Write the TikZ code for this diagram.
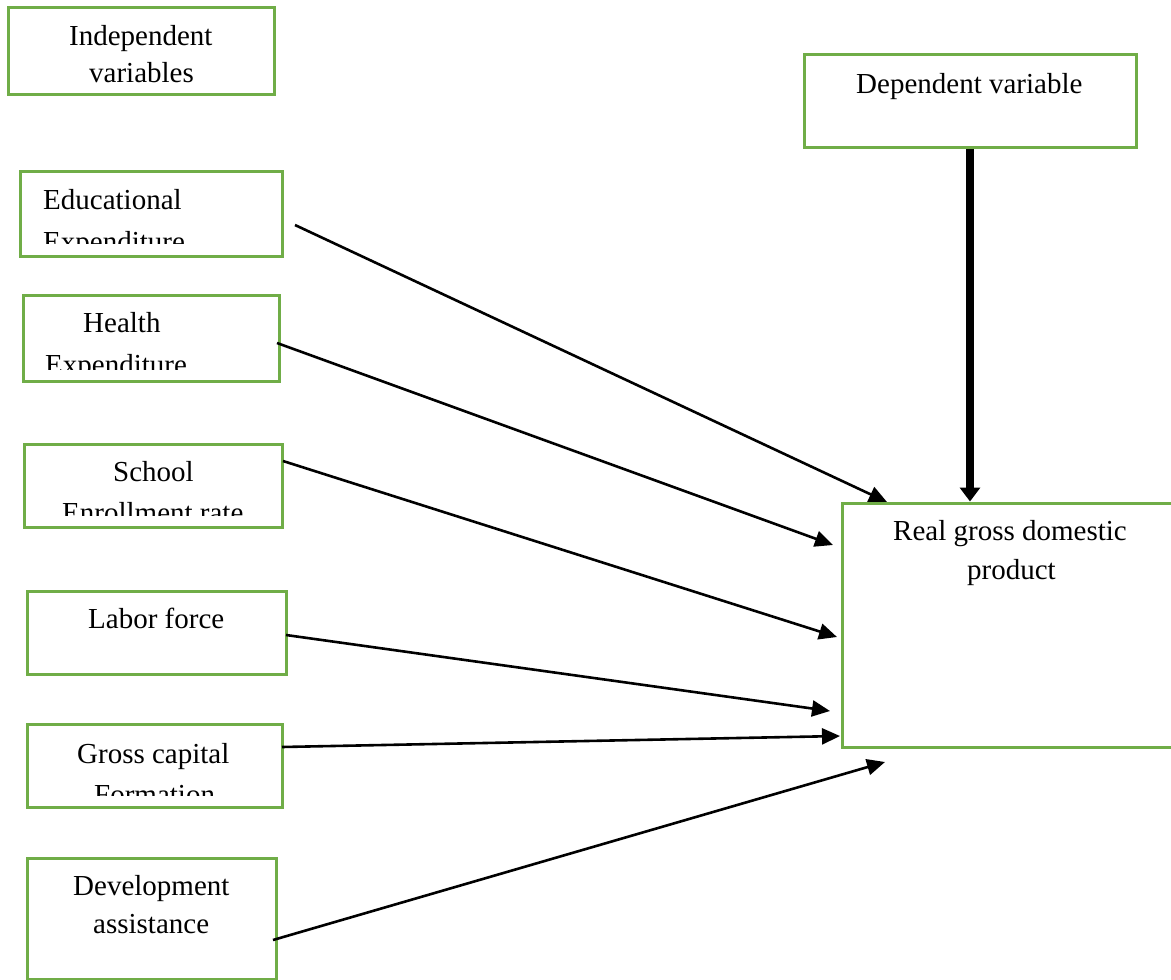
\documentclass[tikz,border=0pt]{standalone}
\usepackage{fontspec}
\setmainfont{Liberation Serif}
\usetikzlibrary{arrows.meta}
\definecolor{boxgreen}{RGB}{112,173,71}
\begin{document}
\begin{tikzpicture}[x=1pt,y=-1pt,
  box/.style={draw=boxgreen,line width=3pt,inner sep=0pt},
  lbl/.style={inner sep=0pt,anchor=base west,font=\fontsize{29}{35}\selectfont},
  arr/.style={line width=2.6pt,-{Triangle[length=18pt,width=16pt]}},
  thickarr/.style={line width=7.5pt,-{Triangle[length=14pt,width=20pt]}}
  ]
\useasboundingbox (0,0) rectangle (1171,980);
\fill[white] (0,0) rectangle (1171,980);

% boxes
\node[box,minimum width=266pt,minimum height=87pt] (indep) at (141,50.5) {};
\node[box,minimum width=332pt,minimum height=93pt] (dep) at (970,100.5) {};
\node[box,minimum width=262pt,minimum height=85pt] (edu) at (151,213.5) {};
\node[box,minimum width=256pt,minimum height=86pt] (health) at (151,338) {};
\node[box,minimum width=258pt,minimum height=83pt] (school) at (153,485.5) {};
\node[box,minimum width=259pt,minimum height=83pt] (labor) at (156.5,632.5) {};
\node[box,minimum width=255pt,minimum height=83pt] (gcf) at (154.5,765.5) {};
\node[box,minimum width=249pt,minimum height=121pt] (dev) at (151.5,918.5) {};
\node[box,minimum width=333pt,minimum height=244pt] (gdp) at (1008.5,625) {};

% texts
\node[lbl] (t1a) at (69,45) {Independent};
\node[lbl] (t1b) at (89,82) {variables};
\node[lbl] (t2) at (856,93) {Dependent variable};
\node[lbl] (t3a) at (43,209) {Educational};
\begin{scope}
  \clip (20,171) rectangle (282,243);
  \node[lbl] (t3b) at (43,251) {Expenditure};
\end{scope}
\node[lbl] (t4a) at (83,332) {Health};
\begin{scope}
  \clip (23,295) rectangle (279,369.3);
  \node[lbl] (t4b) at (45,374) {Expenditure};
\end{scope}
\node[lbl] (t5a) at (113,481) {School};
\begin{scope}
  \clip (24,444) rectangle (282,515);
  \node[lbl] (t5b) at (62,522) {Enrollment rate};
\end{scope}
\node[lbl] (t6) at (88,628) {Labor force};
\node[lbl] (t7a) at (77,763) {Gross capital};
\begin{scope}
  \clip (27,724) rectangle (282,795.7);
  \node[lbl] (t7b) at (94,804) {Formation};
\end{scope}
\node[lbl] (t8a) at (73,895) {Development};
\node[lbl] (t8b) at (93,933) {assistance};
\node[lbl] (t9a) at (893,540) {Real gross domestic};
\node[lbl] (t9b) at (967,579) {product};

% connector end points
\coordinate (eduS) at (295,225);   \coordinate (eduT) at (887,502);
\coordinate (heaS) at (277,343);   \coordinate (heaT) at (833,545);
\coordinate (schS) at (283,461);   \coordinate (schT) at (837,637);
\coordinate (labS) at (286,635);   \coordinate (labT) at (830,711);
\coordinate (gcfS) at (282,747);   \coordinate (gcfT) at (840,736);
\coordinate (devS) at (273,940);   \coordinate (devT) at (885,762);

\draw[arr] (eduS) -- (eduT);
\draw[arr] (heaS) -- (heaT);
\draw[arr] (schS) -- (schT);
\draw[arr] (labS) -- (labT);
\draw[arr] (gcfS) -- (gcfT);
\draw[arr] (devS) -- (devT);
\draw[thickarr] (dep.south) -- (dep.south |- gdp.north);
\end{tikzpicture}
\end{document}
